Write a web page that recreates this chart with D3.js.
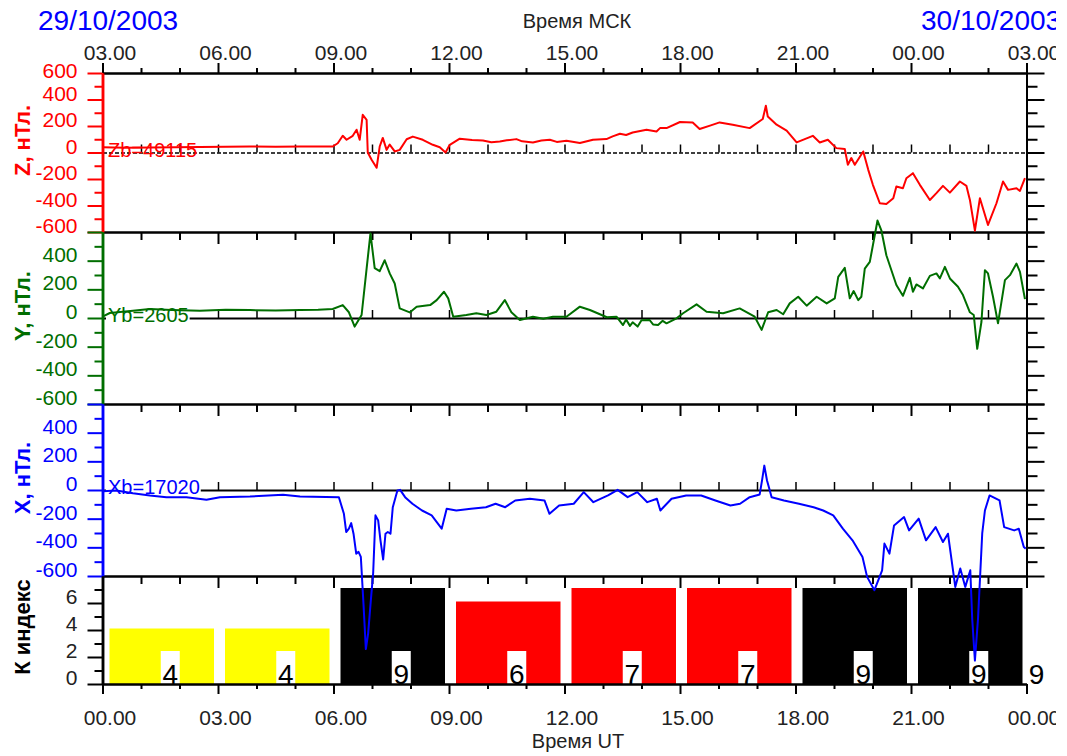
<!DOCTYPE html>
<html><head><meta charset="utf-8">
<script src="https://cdn.jsdelivr.net/npm/d3@7"></script>
<style>
html,body{margin:0;padding:0;background:#fff;}
svg{display:block;}
text{font-family:"Liberation Sans",Arial,sans-serif;}
</style></head><body>
<svg id="chart" width="1067" height="756"></svg>
<script>
// ---------------- DATA ----------------
const dateLeft = "29/10/2003";
const dateRight = "30/10/2003";
const topAxisTitle = "Время МСК";
const bottomAxisTitle = "Время UT";
const panelTitles = ["Z, нТл.", "Y, нТл.", "X, нТл.", "К индекс"];
const baseLabels = ["Zb=49115", "Yb=2605", "Xb=17020"];

const hourMajor = [0, 3, 6, 9, 12, 15, 18, 21, 24];
const hourMinor = [1, 2, 4, 5, 7, 8, 10, 11, 13, 14, 16, 17, 19, 20, 22, 23];
const hourInner = [1, 2, 3, 4, 5, 6, 7, 8, 9, 10, 11, 12, 13, 14, 15, 16, 17, 18, 19, 20, 21, 22, 23];
const utLabels = ["00.00", "03.00", "06.00", "09.00", "12.00", "15.00", "18.00", "21.00", "00.00"];
const mskLabels = ["03.00", "06.00", "09.00", "12.00", "15.00", "18.00", "21.00", "00.00", "03.00"];

const fieldMajor = [-600, -400, -200, 0, 200, 400, 600];
const fieldMinor = [-500, -300, -100, 100, 300, 500];
const kMajor = [0, 2, 4, 6];
const kMinor = [1, 3, 5, 7];

const kStartHours = [0, 3, 6, 9, 12, 15, 18, 21, 24];
const kValues = [4, 4, 9, 6, 7, 7, 9, 9, 9];

// [hour UT, nT]
const zSeries = [[0.00,40],[0.6,36],[1.23,38],[1.9,40],[2.53,42],[3.2,43],[3.83,45],[4.5,44],[5.13,45],[5.98,45],[6.11,70],[6.24,126],[6.34,96],[6.50,126],[6.60,172],[6.68,96],[6.76,285],[6.86,247],[6.89,0],[6.99,-55],[7.12,-115],[7.20,45],[7.28,110],[7.38,20],[7.46,60],[7.59,8],[7.72,20],[7.90,100],[8.06,120],[8.32,96],[8.58,58],[8.76,40],[8.91,0],[9.02,58],[9.28,104],[9.6,95],[9.88,91],[10.1,78],[10.32,83],[10.5,92],[10.75,101],[10.9,84],[11.18,76],[11.4,90],[11.62,96],[11.8,80],[12.05,88],[12.40,71],[12.74,96],[13.09,101],[13.25,122],[13.44,141],[13.6,132],[13.77,151],[14.13,172],[14.39,159],[14.48,184],[14.65,184],[15.00,230],[15.33,227],[15.51,177],[15.8,205],[16.03,227],[16.37,210],[16.81,184],[17.15,253],[17.23,353],[17.28,272],[17.51,210],[17.77,165],[18.03,76],[18.45,126],[18.63,76],[18.84,96],[19.06,33],[19.28,26],[19.36,-93],[19.45,-42],[19.54,-93],[19.76,8],[19.89,-131],[20.01,-244],[20.19,-383],[20.36,-388],[20.54,-345],[20.62,-257],[20.79,-270],[20.88,-194],[21.05,-156],[21.23,-244],[21.49,-358],[21.66,-307],[21.83,-252],[22.01,-303],[22.27,-219],[22.44,-252],[22.53,-358],[22.66,-590],[22.79,-345],[23.00,-547],[23.22,-383],[23.39,-219],[23.52,-282],[23.74,-270],[23.83,-290],[23.96,-194]];

const ySeries = [[0.00,10],[0.19,35],[0.79,50],[1.23,62],[1.8,55],[2.53,50],[3.2,58],[3.83,55],[4.5,52],[5.13,56],[5.6,58],[5.98,63],[6.24,90],[6.40,40],[6.55,-60],[6.73,21],[6.86,345],[6.96,590],[7.07,348],[7.20,327],[7.33,403],[7.46,311],[7.59,241],[7.72,67],[7.98,39],[8.16,79],[8.51,90],[8.68,125],[8.87,183],[8.98,137],[9.11,9],[9.45,21],[9.71,33],[9.97,21],[10.23,44],[10.45,125],[10.62,40],[10.84,-14],[11.18,9],[11.45,-5],[11.70,9],[12.05,9],[12.40,79],[12.66,56],[12.92,26],[13.10,5],[13.35,9],[13.52,-49],[13.6,-10],[13.7,-55],[13.77,-30],[13.9,-60],[14.0,-15],[14.21,-14],[14.3,-45],[14.43,-49],[14.55,-20],[14.65,-37],[14.91,-2],[15.08,33],[15.43,95],[15.69,44],[16.12,33],[16.55,67],[16.94,9],[17.12,-83],[17.29,40],[17.51,56],[17.68,26],[17.85,102],[18.07,148],[18.29,86],[18.55,148],[18.81,102],[19.02,137],[19.11,287],[19.28,350],[19.41,137],[19.51,188],[19.63,125],[19.71,148],[19.80,345],[19.93,392],[20.13,680],[20.23,612],[20.36,438],[20.62,230],[20.79,155],[20.97,280],[21.05,183],[21.14,234],[21.31,206],[21.49,294],[21.66,311],[21.75,276],[21.88,357],[22.01,276],[22.22,218],[22.35,160],[22.53,40],[22.63,21],[22.72,-215],[22.83,-26],[22.92,334],[23.00,311],[23.13,148],[23.26,-37],[23.44,264],[23.57,299],[23.74,380],[23.83,322],[23.96,132]];

const xSeries = [[0.01,-8],[0.36,-3],[0.79,-22],[1.23,-38],[1.66,-50],[2.18,-50],[2.70,-68],[3.05,-50],[3.83,-45],[4.69,-33],[5.13,-45],[6.14,-50],[6.27,-166],[6.33,-293],[6.40,-270],[6.46,-231],[6.52,-305],[6.59,-444],[6.65,-432],[6.71,-467],[6.78,-800],[6.84,-1110],[6.90,-1000],[6.97,-768],[7.03,-581],[7.09,-177],[7.16,-212],[7.22,-351],[7.29,-485],[7.35,-305],[7.41,-293],[7.48,-305],[7.54,-120],[7.66,-3],[7.73,1],[7.86,-50],[8.05,-96],[8.30,-143],[8.55,-177],[8.81,-270],[8.94,-131],[9.19,-143],[9.57,-131],[9.96,-120],[10.21,-96],[10.46,-120],[10.72,-73],[11.10,-61],[11.48,-73],[11.61,-166],[11.86,-108],[12.24,-96],[12.50,-15],[12.75,-85],[13.13,-38],[13.38,1],[13.64,-50],[13.89,-15],[14.15,-85],[14.40,-61],[14.49,-143],[14.78,-61],[15.16,-38],[15.55,-38],[15.92,-73],[16.31,-108],[16.56,-96],[16.81,-50],[17.07,-31],[17.13,66],[17.19,170],[17.26,66],[17.32,8],[17.38,-50],[17.70,-73],[18.09,-96],[18.47,-120],[18.72,-143],[18.98,-177],[19.23,-270],[19.48,-351],[19.74,-467],[19.86,-606],[20.05,-699],[20.25,-560],[20.31,-374],[20.44,-444],[20.56,-247],[20.82,-189],[20.95,-282],[21.20,-200],[21.39,-351],[21.64,-259],[21.83,-363],[21.96,-305],[22.15,-676],[22.28,-548],[22.41,-676],[22.54,-560],[22.59,-900],[22.66,-1190],[22.74,-900],[22.85,-303],[22.92,-143],[23.04,-38],[23.30,-73],[23.42,-259],[23.68,-282],[23.80,-270],[23.93,-398],[23.98,-409]];

// ---------------- LAYOUT ----------------
const FONT = '"Liberation Sans",Arial,sans-serif';
const svg = d3.select("#chart");
svg.append("defs").append("clipPath").attr("id", "clip")
  .append("rect").attr("x", 0).attr("y", 0).attr("width", 1056).attr("height", 756);
const g = svg.append("g").attr("clip-path", "url(#clip)");

const x = d3.scaleLinear().domain([0, 24]).range([102.5, 1026.5]);
const panels = [
  { data: zSeries, color: "#ff0000", top: 73, bottom: 232, zeroDash: true },
  { data: ySeries, color: "#006e00", top: 232, bottom: 404, zeroDash: false },
  { data: xSeries, color: "#0000ff", top: 404, bottom: 576, zeroDash: false }
];
panels.forEach(p => { p.y = d3.scaleLinear().domain([-600, 600]).range([p.bottom, p.top]); });
const yK = d3.scaleLinear().domain([0, 8]).range([684, 576]);

function styleAxis(a, color, width) {
  a.attr("font-family", FONT);
  a.select(".domain").attr("stroke", color).attr("stroke-width", width);
  a.selectAll(".tick line").attr("stroke", color).attr("stroke-width", 2);
  a.selectAll(".tick text").attr("fill", color);
  return a;
}

// ---------------- K BARS ----------------
const kColor = k => k >= 8 ? "#000000" : (k >= 5 ? "#ff0000" : "#ffff00");
const kg = g.append("g");
kValues.forEach((k, i) => {
  const s = kStartHours[i];
  if (s + 3 <= 24) {
    const y0 = yK(Math.min(k, 7));
    kg.append("rect").attr("x", x(s) + 7).attr("width", x(s + 3) - x(s) - 11)
      .attr("y", y0 - 1.5).attr("height", yK(0) - y0 + 1.5).attr("fill", kColor(k));
  }
});
kValues.forEach((k, i) => {
  const s = kStartHours[i];
  const inside = s + 3 <= 24;
  const cx = inside ? x(s) + (x(s + 3) - x(s)) / 2 + 10 : x(s) + 10;
  if (inside) kg.append("rect").attr("x", cx - 9.5).attr("y", 651).attr("width", 19).attr("height", 33).attr("fill", "#fff");
  kg.append("text").attr("x", cx).attr("y", yK(0)).attr("text-anchor", "middle")
    .attr("font-size", 28).attr("fill", "#000").text(k);
});

// ---------------- ZERO LINES ----------------
panels.forEach((p, i) => {
  const z = p.y(0);
  const a = g.append("g").attr("transform", `translate(0,${z})`)
    .call(d3.axisTop(x).tickValues(hourInner).tickSize(8).tickSizeOuter(0).tickFormat(""));
  styleAxis(a, "#000", 2);
  a.selectAll(".tick line").attr("stroke-width", 1.5);
  if (p.zeroDash) a.select(".domain").attr("stroke-dasharray", "4,2").attr("stroke-width", 1.5);
  const t = g.append("text").attr("x", 108).attr("y", z + (i === 0 ? 4.5 : 4))
    .attr("font-size", 20).attr("fill", p.color).text(baseLabels[i]);
  if (i > 0) {
    const bb = t.node().getBBox();
    g.insert("rect", () => t.node()).attr("x", bb.x - 2).attr("y", bb.y).attr("width", bb.width + 3)
      .attr("height", bb.height).attr("fill", "#fff");
  }
});

// ---------------- HORIZONTAL BORDERS WITH HOUR TICKS ----------------
// top (MSK)
let a = g.append("g").attr("transform", "translate(0,73)")
  .call(d3.axisTop(x).tickValues(hourMajor).tickSize(10).tickSizeOuter(0).tickPadding(3)
    .tickFormat((d, i) => mskLabels[i]));
styleAxis(a, "#000", 2).attr("font-size", 21);
a.selectAll(".tick text").attr("x", 7).attr("fill", "#222");
a = g.append("g").attr("transform", "translate(0,73)")
  .call(d3.axisTop(x).tickValues(hourMinor).tickSize(5).tickSizeOuter(0).tickFormat(""));
styleAxis(a, "#000", 2);

[232, 404, 576].forEach(yy => {
  let b = g.append("g").attr("transform", `translate(0,${yy})`)
    .call(d3.axisBottom(x).tickValues(hourMajor).tickSize(12).tickSizeOuter(0).tickFormat(""));
  styleAxis(b, "#000", 2);
  b = g.append("g").attr("transform", `translate(0,${yy})`)
    .call(d3.axisBottom(x).tickValues(hourMinor).tickSize(8).tickSizeOuter(0).tickFormat(""));
  styleAxis(b, "#000", 2);
});

// bottom (UT)
a = g.append("g").attr("transform", "translate(0,684)")
  .call(d3.axisBottom(x).tickValues(hourMajor).tickSize(10).tickSizeOuter(0).tickPadding(16)
    .tickFormat((d, i) => utLabels[i]));
styleAxis(a, "#000", 2).attr("font-size", 21);
a.selectAll(".tick text").attr("x", 7).attr("fill", "#222");
a = g.append("g").attr("transform", "translate(0,684)")
  .call(d3.axisBottom(x).tickValues(hourMinor).tickSize(5).tickSizeOuter(0).tickFormat(""));
styleAxis(a, "#000", 2);

// ---------------- VERTICAL AXES ----------------
panels.forEach((p, i) => {
  // right
  let r = g.append("g").attr("transform", `translate(${x(24)},0)`)
    .call(d3.axisRight(p.y).tickValues(fieldMajor).tickSize(18).tickSizeOuter(0).tickFormat(""));
  styleAxis(r, "#000", 2);
  r = g.append("g").attr("transform", `translate(${x(24)},0)`)
    .call(d3.axisRight(p.y).tickValues(fieldMinor).tickSize(11).tickSizeOuter(0).tickFormat(""));
  styleAxis(r, "#000", 2);
  // left (top value labelled only on the first panel)
  let l = g.append("g").attr("transform", `translate(${x(0)},0)`)
    .call(d3.axisLeft(p.y).tickValues(fieldMajor).tickSize(15).tickSizeOuter(0).tickPadding(10)
      .tickFormat(d => (i > 0 && d === 600) ? "" : String(d)));
  styleAxis(l, p.color, 2.5).attr("font-size", 21);
  l.selectAll(".tick text").attr("dy", d => (i === 0 && d === 600) ? "0.2em" : "0.03em");
  l = g.append("g").attr("transform", `translate(${x(0)},0)`)
    .call(d3.axisLeft(p.y).tickValues(fieldMinor).tickSize(8).tickSizeOuter(0).tickFormat(""));
  styleAxis(l, p.color, 2.5);
  // title
  g.append("text").attr("transform", `translate(30,${p.y(0) - 12}) rotate(-90)`)
    .attr("text-anchor", "middle").attr("font-size", 22).attr("font-weight", "bold")
    .attr("fill", p.color).text(panelTitles[i]);
});
// K axis
let kl = g.append("g").attr("transform", `translate(${x(0)},0)`)
  .call(d3.axisLeft(yK).tickValues(kMajor).tickSize(15).tickSizeOuter(0).tickPadding(10).tickFormat(d => String(d)));
styleAxis(kl, "#000", 2.5).attr("font-size", 21);
kl.selectAll(".tick text").attr("dy", "0.03em").attr("fill", "#222");
kl = g.append("g").attr("transform", `translate(${x(0)},0)`)
  .call(d3.axisLeft(yK).tickValues(kMinor).tickSize(8).tickSizeOuter(0).tickFormat(""));
styleAxis(kl, "#000", 2.5);
g.append("text").attr("transform", `translate(30,${(yK(0) + yK(8)) / 2 - 3}) rotate(-90)`)
  .attr("text-anchor", "middle").attr("font-size", 22).attr("font-weight", "bold")
  .attr("fill", "#000").text(panelTitles[3]);

// ---------------- TRACES ----------------
panels.forEach(p => {
  const line = d3.line().x(d => x(d[0])).y(d => p.y(d[1]));
  g.append("path").datum(p.data).attr("d", line).attr("fill", "none")
    .attr("stroke", p.color).attr("stroke-width", 2).attr("stroke-linejoin", "round");
});

// ---------------- TITLES ----------------
g.append("text").attr("x", 38).attr("y", 30).attr("font-size", 28).attr("fill", "#0000ff").text(dateLeft);
g.append("text").attr("x", 921).attr("y", 30).attr("font-size", 28).attr("fill", "#0000ff").text(dateRight);
g.append("text").attr("x", 577).attr("y", 28).attr("text-anchor", "middle").attr("font-size", 20).attr("fill", "#222").text(topAxisTitle);
g.append("text").attr("x", 578).attr("y", 748).attr("text-anchor", "middle").attr("font-size", 20).attr("fill", "#222").text(bottomAxisTitle);
</script>
</body></html>
